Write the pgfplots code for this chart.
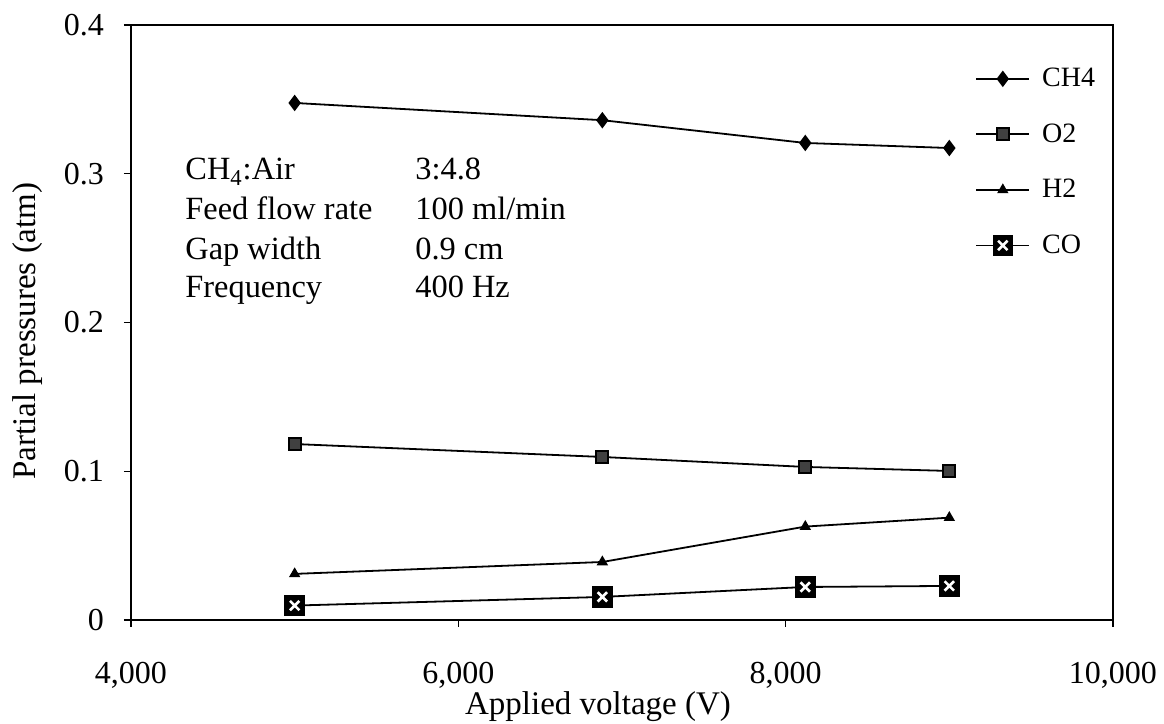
\documentclass[border=0pt]{standalone}
\usepackage{fontspec}
\setmainfont{Liberation Serif}
\usepackage{pgfplots}
\pgfplotsset{compat=1.18}

% black square with a white cross (CO)
\pgfdeclareplotmark{boxcross}{%
  \pgfsetfillcolor{black}%
  \pgfsetstrokecolor{black}%
  \pgfpathrectangle{\pgfqpoint{-\pgfplotmarksize}{-\pgfplotmarksize}}{\pgfqpoint{2\pgfplotmarksize}{2\pgfplotmarksize}}%
  \pgfusepath{fill,stroke}%
  \pgfsetstrokecolor{white}%
  \pgfsetlinewidth{1.3pt}%
  \pgfpathmoveto{\pgfqpoint{-.5\pgfplotmarksize}{-.5\pgfplotmarksize}}%
  \pgfpathlineto{\pgfqpoint{.5\pgfplotmarksize}{.5\pgfplotmarksize}}%
  \pgfpathmoveto{\pgfqpoint{-.5\pgfplotmarksize}{.5\pgfplotmarksize}}%
  \pgfpathlineto{\pgfqpoint{.5\pgfplotmarksize}{-.5\pgfplotmarksize}}%
  \pgfusepath{stroke}%
}

\newcommand{\ticksize}{\fontsize{16}{19}\selectfont}
\newcommand{\labsize}{\fontsize{16.5}{19}\selectfont}
\newcommand{\notesize}{\fontsize{16.2}{19}\selectfont}

\begin{document}
\begin{tikzpicture}
\begin{axis}[
  at={(0pt,0pt)}, anchor=south west,
  scale only axis, width=491pt, height=297.5pt,
  xmin=4000, xmax=10000, ymin=0, ymax=0.4,
  xtick={4000,6000,8000,10000}, ytick={0,0.1,0.2,0.3,0.4},
  scaled x ticks=false, scaled y ticks=false,
  xtick pos=bottom, ytick pos=left, tick align=outside,
  major tick length=3.5pt,
  axis line style={line width=0.9pt},
  tick style={black, line width=0.6pt},
  /pgf/number format/assume math mode=true,
  x tick label style={/pgf/number format/1000 sep={,}, font=\ticksize, yshift=-14pt},
  y tick label style={/pgf/number format/fixed, /pgf/number format/precision=1, font=\ticksize, xshift=-6.5pt},
  xlabel={Applied voltage (V)},
  ylabel={Partial pressures (atm)},
  label style={font=\labsize},
  xlabel style={at={([yshift=-47.5pt]axis description cs:0.4756,0)}, anchor=base},
  ylabel style={at={([xshift=-51.5pt,yshift=-4.25pt]axis description cs:0,0.5)}, anchor=center},
  legend style={draw=none, fill=none, at={(0.8595,0.935)}, anchor=north west,
    font=\fontsize{14}{16}\selectfont, row sep=13pt, column sep=4pt, inner sep=0pt},
  legend cell align=left,
  legend image code/.code={\draw[mark repeat=2,mark phase=2,#1] plot coordinates {(0pt,0pt) (13.25pt,0pt) (26.5pt,0pt)};},
  every axis plot/.append style={black, line width=0.9pt},
]
\addplot[mark=diamond*, mark size=3.4pt, mark options={solid, fill=black}]
  coordinates {(5000,0.3476) (6880,0.3360) (8120,0.3207) (9000,0.3173)};
\addlegendentry{CH4}
\addplot[mark=square*, mark size=3pt, mark options={solid, draw=black, fill=black!75}]
  coordinates {(5000,0.1183) (6880,0.1096) (8120,0.1029) (9000,0.1002)};
\addlegendentry{O2}
\addplot[mark=triangle*, mark size=2.4pt, mark options={solid, fill=black}]
  coordinates {(5000,0.0310) (6880,0.0390) (8120,0.0628) (9000,0.0688)};
\addlegendentry{H2}
\addplot[mark=boxcross, mark size=4.7pt]
  coordinates {(5000,0.0097) (6880,0.0155) (8120,0.0222) (9000,0.0229)};
\addlegendentry{CO}

% operating conditions
\begin{scope}[every node/.style={inner sep=0pt, anchor=base west, font=\notesize}]
\node at (axis description cs:0.055,0.7395) {CH\textsubscript{4}:Air};
\node at (axis description cs:0.2892,0.7395) {3:4.8};
\node at (axis description cs:0.055,0.6723) {Feed flow rate};
\node at (axis description cs:0.2892,0.6723) {100 ml/min};
\node at (axis description cs:0.055,0.6067) {Gap width};
\node at (axis description cs:0.2892,0.6067) {0.9 cm};
\node at (axis description cs:0.055,0.5412) {Frequency};
\node at (axis description cs:0.2892,0.5412) {400 Hz};
\end{scope}
\end{axis}
\pgfresetboundingbox
\path[use as bounding box] (-65.5pt,-52pt) rectangle (516.5pt,310pt);
\end{tikzpicture}
\end{document}
